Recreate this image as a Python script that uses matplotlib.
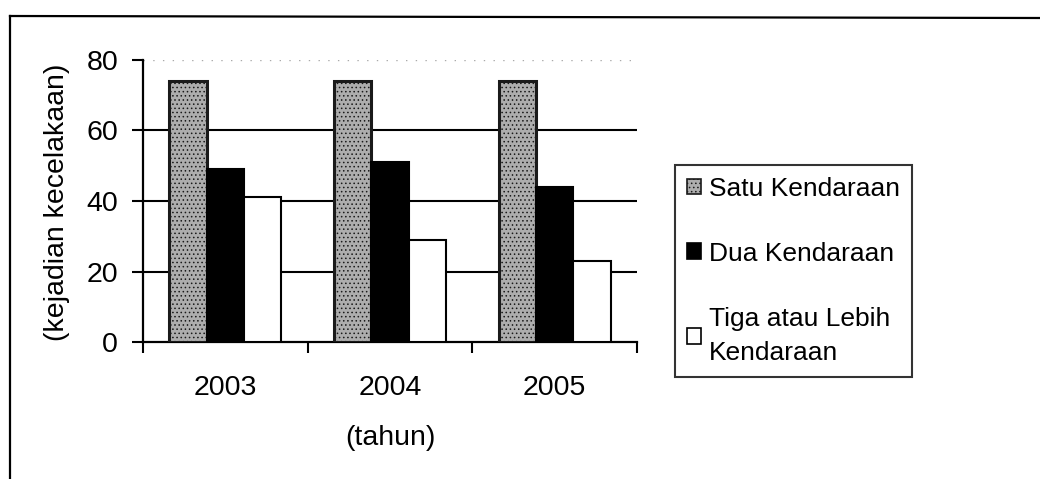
import matplotlib
matplotlib.use("Agg")
import matplotlib.pyplot as plt
import numpy as np
from matplotlib.lines import Line2D

plt.rcParams['font.family'] = ['Liberation Sans', 'DejaVu Sans']
plt.rcParams['hatch.linewidth'] = 0.6

years = ['2003', '2004', '2005']
satu = [74, 74, 74]
dua = [49, 51, 44]
tiga = [41, 29, 23]
series_labels = ['Satu Kendaraan', 'Dua Kendaraan', 'Tiga atau Lebih\nKendaraan']
yticks = [0, 20, 40, 60, 80]

W, H = 1040, 479
fig = plt.figure(figsize=(W / 100, H / 100), dpi=100)
fig.patch.set_facecolor('white')

# outer frame (left and top lines)
fig.add_artist(Line2D([10 / W, 10 / W], [0, 1 - 16 / H], color='black', lw=1.6, transform=fig.transFigure))
fig.add_artist(Line2D([10 / W, 1], [1 - 16 / H, 1 - 18 / H], color='black', lw=1.6, transform=fig.transFigure))

ax = fig.add_axes([143 / W, 1 - 342 / H, (637 - 143) / W, (342 - 60) / H])
x = np.arange(len(years))
bw = 0.227

ax.bar(x - bw, satu, bw, facecolor='#adadad', edgecolor='#1a1a1a', hatch='....', linewidth=2.2, zorder=3,
       label=series_labels[0])
ax.bar(x, dua, bw, facecolor='black', edgecolor='black', linewidth=1.5, zorder=3, label=series_labels[1])
ax.bar(x + bw, tiga, bw, facecolor='white', edgecolor='black', linewidth=1.5, zorder=3, label=series_labels[2])

ax.set_xlim(-0.5, len(years) - 0.5)
ax.set_ylim(0, 80)

# gridlines
for yv in yticks[1:-1]:
    ax.axhline(yv, color='black', lw=1.5, zorder=1)
ax.axhline(80, color='#aaaaaa', lw=1.0, ls=(0, (1, 6)), zorder=1)

ax.set_yticks(yticks)
ax.tick_params(axis='y', direction='out', length=8, width=1.5, pad=10, labelsize=20.5)
ax.set_xticks(x)
ax.set_xticklabels(years)
ax.tick_params(axis='x', which='major', length=0, pad=24, labelsize=20.5)
ax.set_xticks(np.arange(-0.5, len(years), 1.0), minor=True)
ax.tick_params(axis='x', which='minor', direction='out', length=8, width=1.5)

for s in ['top', 'right']:
    ax.spines[s].set_visible(False)
ax.spines['left'].set_linewidth(1.6)
ax.spines['bottom'].set_linewidth(1.6)
ax.set_facecolor('white')

fig.text(57 / W, 1 - 202 / H, '(kejadian kecelakaan)', rotation=90, ha='center', va='center', fontsize=20.5)
fig.text(390 / W, 1 - 438 / H, '(tahun)', ha='center', va='center', fontsize=20.5)

leg = fig.legend(loc='upper left', bbox_to_anchor=(675 / W, 1 - 165 / H), borderaxespad=0,
                 fontsize=19, frameon=True, fancybox=False, edgecolor='black',
                 handlelength=0.55, handleheight=0.55, handletextpad=0.3, labelspacing=1.55,
                 borderpad=0.45)
leg.get_frame().set_linewidth(1.5)
for t in leg.get_texts():
    t.set_linespacing(1.55)
for h in leg.legend_handles:
    h.set_linewidth(1.2)

fig.savefig('out.png', dpi=100, facecolor='white')
